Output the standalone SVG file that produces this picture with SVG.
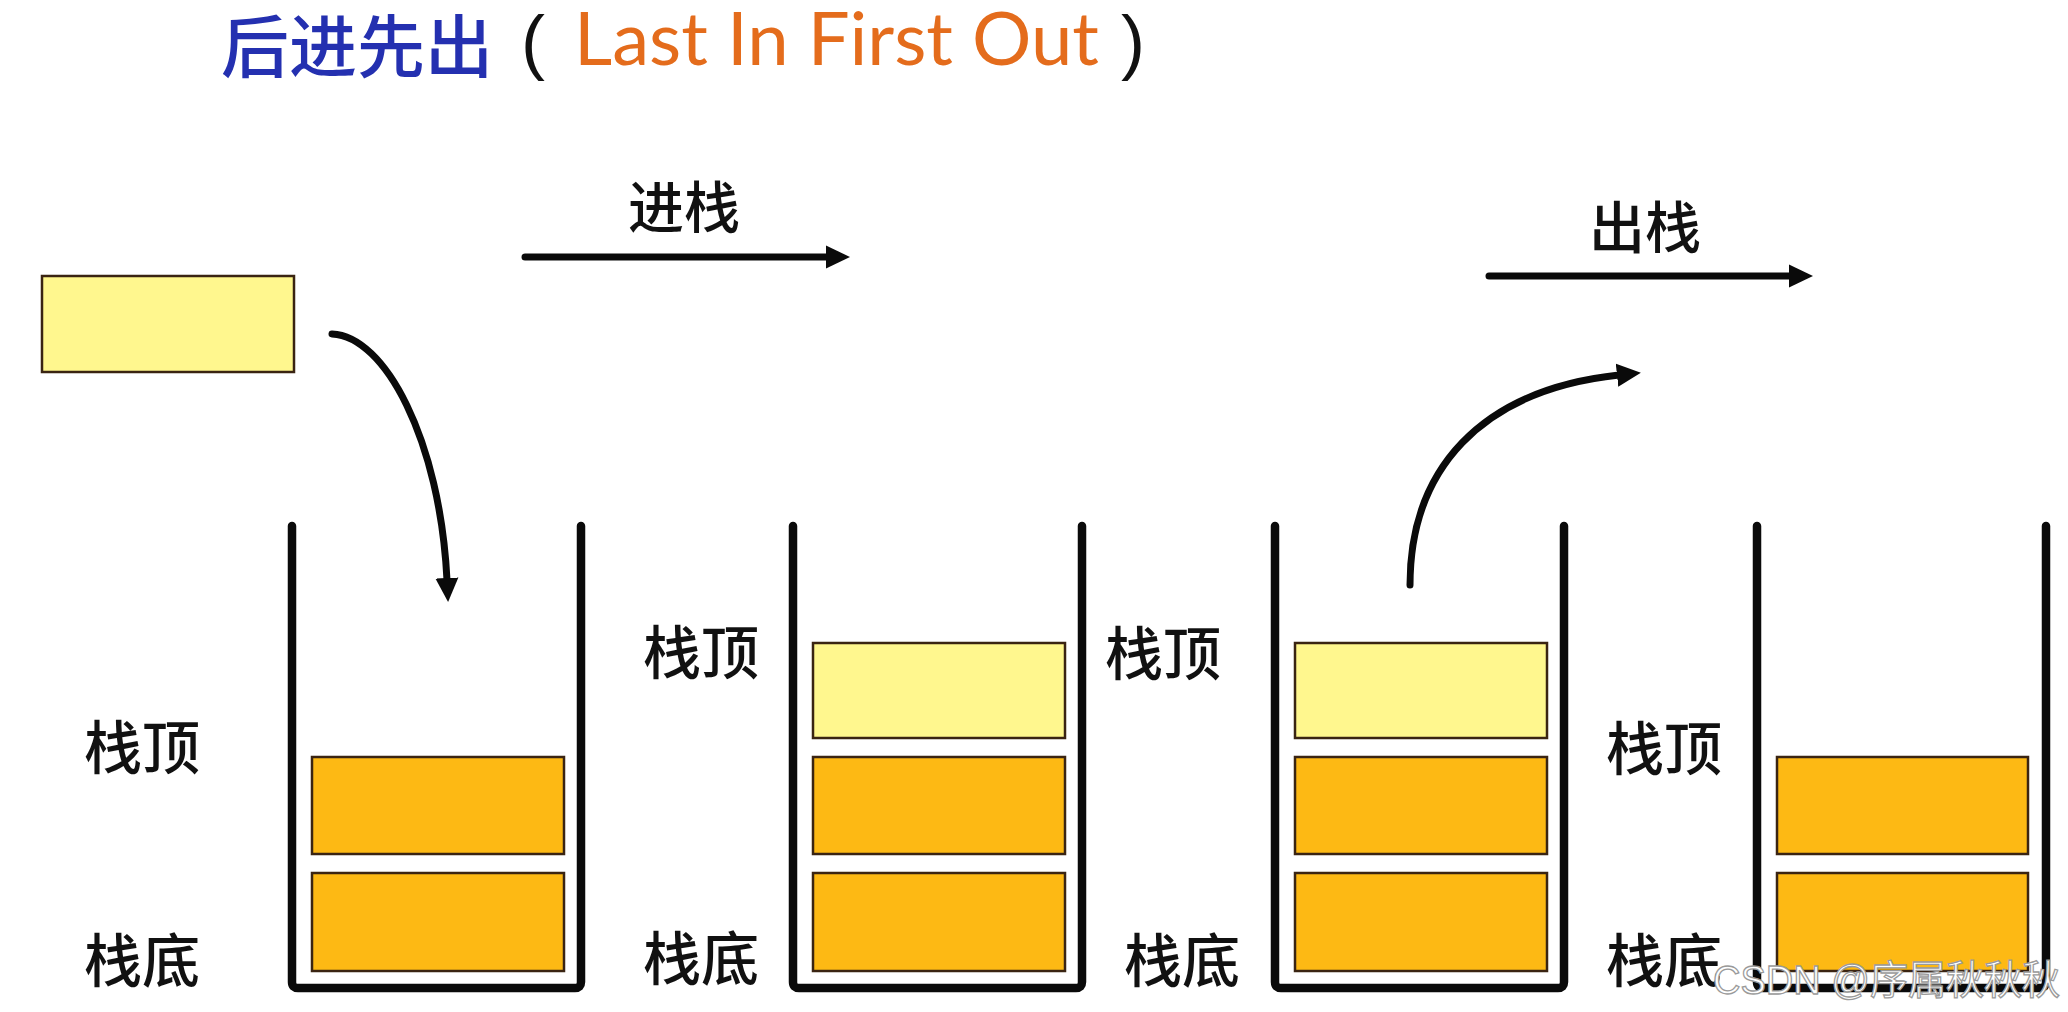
<svg xmlns="http://www.w3.org/2000/svg" width="2068" height="1012" viewBox="0 0 2068 1012">
  <style>
    .lbl { font-family: "Noto Sans CJK SC", "Noto Sans", sans-serif; font-size: 58px; font-weight: 500; fill: #111; text-anchor: middle; }
    .op { font-family: "Noto Sans CJK SC", "Noto Sans", sans-serif; font-size: 56px; font-weight: 500; fill: #111; text-anchor: middle; }
    .wall { fill: none; stroke: #0a0a0a; stroke-width: 8.5; stroke-linecap: round; stroke-linejoin: round; }
    .orange { fill: #fdb914; stroke: #3a2412; stroke-width: 2.5; }
    .yellow { fill: #fff78e; stroke: #3a2412; stroke-width: 2.5; }
    .conn { fill: none; stroke: #0a0a0a; stroke-width: 7; stroke-linecap: round; }
    .paren { font-family: "Liberation Sans", Arial, sans-serif; font-size: 72px; fill: #111; }
  </style>
  <defs>
    <marker id="ah" markerUnits="userSpaceOnUse" markerWidth="26" markerHeight="26" viewBox="0 0 26 26" refX="2" refY="13" orient="auto">
      <path d="M0,1.5 L24,13 L0,24.5 z" fill="#0a0a0a"/>
    </marker>
  </defs>
  <rect x="0" y="0" width="2068" height="1012" fill="#ffffff"/>

  <g id="title">
    <text x="221" y="72" font-family="'Noto Sans CJK SC', sans-serif" font-size="68" font-weight="500" fill="#2430b0">后进先出</text>
    <text class="paren" x="521" y="66">(</text>
    <text x="574" y="65" font-family="Lato, 'Open Sans', sans-serif" font-size="73" fill="#e46c1c" textLength="525" lengthAdjust="spacingAndGlyphs">Last In First Out</text>
    <text class="paren" x="1121" y="66">)</text>
  </g>

  <g id="push-label">
    <text class="op" x="684" y="228">进栈</text>
  </g>
  <g id="pop-label">
    <text class="op" x="1645" y="248">出栈</text>
  </g>

  <g id="incoming-item">
    <rect class="yellow" x="42" y="276" width="252" height="96"/>
  </g>

  <g id="stack1">
    <path class="wall" d="M292,526 V982 Q292,988 298,988 H575 Q581,988 581,982 V526"/>
    <rect class="orange" x="312" y="757" width="252" height="97"/>
    <rect class="orange" x="312" y="873" width="252" height="98"/>
    <text class="lbl" x="142" y="769">栈顶</text>
    <text class="lbl" x="142" y="982">栈底</text>
  </g>

  <g id="stack2">
    <path class="wall" d="M793,526 V982 Q793,988 799,988 H1076 Q1082,988 1082,982 V526"/>
    <rect class="yellow" x="813" y="643" width="252" height="95"/>
    <rect class="orange" x="813" y="757" width="252" height="97"/>
    <rect class="orange" x="813" y="873" width="252" height="98"/>
    <text class="lbl" x="701" y="674">栈顶</text>
    <text class="lbl" x="701" y="980">栈底</text>
  </g>

  <g id="stack3">
    <path class="wall" d="M1275,526 V982 Q1275,988 1281,988 H1558 Q1564,988 1564,982 V526"/>
    <rect class="yellow" x="1295" y="643" width="252" height="95"/>
    <rect class="orange" x="1295" y="757" width="252" height="97"/>
    <rect class="orange" x="1295" y="873" width="252" height="98"/>
    <text class="lbl" x="1163" y="675">栈顶</text>
    <text class="lbl" x="1182" y="982">栈底</text>
  </g>

  <g id="stack4">
    <path class="wall" d="M1757,526 V982 Q1757,988 1763,988 H2040 Q2046,988 2046,982 V526"/>
    <rect class="orange" x="1777" y="757" width="251" height="97"/>
    <rect class="orange" x="1777" y="873" width="251" height="98"/>
    <text class="lbl" x="1664" y="770">栈顶</text>
    <text class="lbl" x="1664" y="982">栈底</text>
  </g>

  <g id="connectors">
    <path class="conn" d="M525,257 H828" marker-end="url(#ah)"/>
    <path class="conn" d="M1489,276 H1791" marker-end="url(#ah)"/>
    <path class="conn" d="M332,334 C385,336 440,440 447,580" marker-end="url(#ah)"/>
    <path class="conn" d="M1410,585 C1410,470 1480,390 1619,375" marker-end="url(#ah)"/>
  </g>

  <g id="watermark">
    <text x="1713" y="994" font-family="'Liberation Sans', 'Noto Sans CJK SC', sans-serif" font-size="40" fill="#ffffff" stroke="#9a9a9a" stroke-width="1.3" textLength="347" lengthAdjust="spacingAndGlyphs">CSDN @序属秋秋秋</text>
  </g>
</svg>
